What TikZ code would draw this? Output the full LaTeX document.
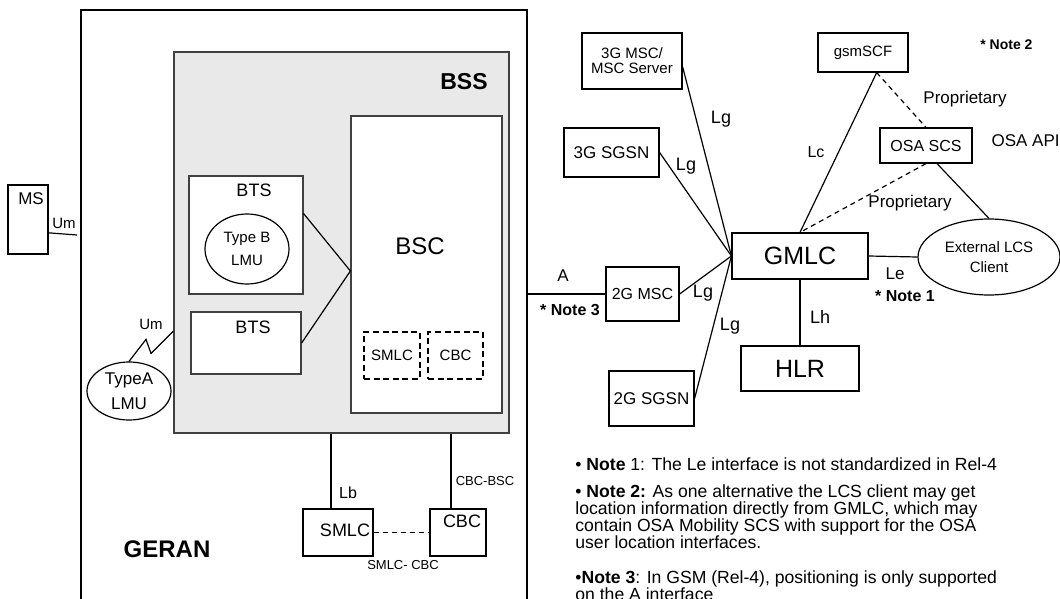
\documentclass[tikz,border=0pt]{standalone}
\usepackage{fontspec}
\setmainfont{Liberation Sans}
\usetikzlibrary{positioning, calc, fit, shapes.geometric}
\definecolor{bssfill}{RGB}{233,233,233}
\newcommand{\fsz}[1]{\fontsize{#1}{#1}\selectfont}

\begin{document}
\begin{tikzpicture}[
    x=0.5pt, y=-0.5pt,
    box/.style={draw=black, line width=0.6pt, inner sep=0pt},
    dbox/.style={draw=black, line width=0.9pt, dash pattern=on 3pt off 1.8pt, inner sep=0pt},
    lmu/.style={ellipse, draw=black, line width=0.6pt, inner sep=0pt, align=center},
    link/.style={line width=0.6pt},
    dlink/.style={line width=0.6pt, dash pattern=on 2.5pt off 2pt},
    iface/.style={inner sep=0pt, font=\fsz{9}},
    noteref/.style={inner sep=0pt, font=\bfseries\fsz{8}},
    note/.style={inner sep=0pt, anchor=north west, align=left, font=\fontsize{8.8}{8.5}\selectfont}
]
    \clip (0,0) rectangle (1060,599);

    % GERAN / BSS
    \node[box, line width=0.8pt, fit={(81,10) (527,640)}] (geran) {};
    \node[font=\bfseries\fsz{12}] (geranlbl) at (167,549) {GERAN};
    \node[box, draw=black!75, fill=bssfill, fit={(174,52) (509,433)}] (bss) {};
    \node[font=\bfseries\fsz{11.5}] (bsslbl) at (464,82) {BSS};
    \node[box, draw=black!75, fill=white, fit={(351,116) (502,413)}] (bsc) {};
    \node[font=\fsz{12}] (bsclbl) at (420,246) {BSC};
    \node[dbox, font=\fsz{7.5}, minimum width=28pt, minimum height=23.5pt] (smlcin) at (392,355.5) {SMLC};
    \node[dbox, font=\fsz{7.5}, minimum width=27.5pt, minimum height=23.5pt] (cbcin) at (455.5,355.5) {CBC};

    % BTSs
    \node[box, draw=black!75, fill=white, fit={(189,176) (303,294)}] (bts1) {};
    \node[font=\fsz{9}] (bts1lbl) at (254,190) {BTS};
    \node[lmu, minimum width=42pt, minimum height=35pt, font=\fsz{7.5}] (lmub) at (247,249) {Type B\\[4pt]LMU};
    \node[box, draw=black!75, fill=white, fit={(191,312) (301,374)}] (bts2) {};
    \node[font=\fsz{9}] (bts2lbl) at (253,327) {BTS};
    \draw[link] ($(bts1.north east)!0.32!(bts1.south east)$) -- (bsc.west |- 0,271);
    \draw[link] (bts2.east) -- (bsc.west |- 0,271);

    % MS and Type A LMU
    \node[box, fit={(8,185) (48,254)}] (ms) {};
    \node[font=\fsz{8.5}] (mslbl) at (31,199) {MS};
    \coordinate (umend) at (77,235);
    \draw[link] ($(ms.north east)!0.69!(ms.south east)$) -- (umend);
    \node[iface, font=\fsz{7.5}] (um1) at (64,223) {Um};
    \node[lmu, minimum width=42pt, minimum height=29pt, font=\fsz{8.5}] (lmua) at (129,391) {TypeA\\[4pt]LMU};
    \draw[link] (lmua.north) -- ++(17,-22) -- ++(5,14) -- (bss.west |- 0,331);
    \node[iface, font=\fsz{7.5}] (um2) at (151,324) {Um};

    % SMLC / CBC
    \node[box, fit={(303,509) (373,556)}] (smlc) {};
    \node[font=\fsz{9}] (smlclbl) at (345,530) {SMLC};
    \node[box, fit={(430,509) (486,556)}] (cbc) {};
    \node[font=\fsz{9}] (cbclbl) at (462,521) {CBC};
    \draw[link] (bss.south -| 331,0) -- (smlc.north -| 331,0);
    \draw[line width=1.1pt] (bss.south -| 451,0) -- (cbc.north -| 451,0);
    \draw[dlink] (smlc.east) -- (cbc.west);
    \node[iface, font=\fsz{8}] (lb) at (348,493) {Lb};
    \node[iface, font=\fsz{6.5}] (cbcbsc) at (485,481) {CBC-BSC};
    \node[iface, font=\fsz{6.5}] (smlccbc) at (403,565) {SMLC- CBC};

    % core network
    \node[box, align=center, font=\fsz{7.5}, minimum width=50pt, minimum height=28pt] (msc3) at (632,61) {3G MSC/\\MSC Server};
    \node[box, font=\fsz{8.5}, minimum width=47.5pt, minimum height=24.5pt] (sgsn3) at (611.5,152.5) {3G SGSN};
    \node[box, font=\fsz{7.5}, minimum width=45pt, minimum height=19.5pt] (scf) at (863,52.5) {gsmSCF};
    \node[box, font=\fsz{8}, minimum width=46pt, minimum height=17.5pt] (osa) at (926,145.5) {OSA SCS};
    \node[box, font=\fsz{12.5}, minimum width=68pt, minimum height=23pt] (gmlc) at (800,256) {GMLC};
    \node[box, font=\fsz{12.5}, minimum width=59pt, minimum height=22.5pt] (hlr) at (800,368.5) {HLR};
    \node[lmu, minimum width=71pt, minimum height=38pt, font=\fsz{7.5}] (client) at (989,257) {External LCS\\[2.5pt]Client};
    \node[box, font=\fsz{8}, minimum width=36.5pt, minimum height=27pt] (msc2) at (642.5,294) {2G MSC};
    \node[box, font=\fsz{8.5}, minimum width=42.5pt, minimum height=27.5pt] (sgsn2) at (651.5,398.5) {2G SGSN};

    \draw[link] ($(msc3.north east)!0.6!(msc3.south east)$) -- (gmlc.west);
    \draw[link] (sgsn3.east) -- (gmlc.west);
    \draw[link] (msc2.east) -- (gmlc.west);
    \draw[link] (sgsn2.east) -- (gmlc.west);
    \draw[link] (gmlc.south) -- (hlr.north);
    \draw[link] (gmlc.east) -- (client.west);
    \draw[link] (gmlc.north) -- ($(scf.south west)!0.65!(scf.south east)$);
    \draw[dlink] ($(scf.south west)!0.65!(scf.south east)$) -- (osa.north);
    \draw[dlink] (osa.south) -- (gmlc.north);
    \draw[link] ($(osa.south)+(11,0)$) -- (client.north);
    \draw[link] (msc2.west -| geran.east) -- (msc2.west);

    \node[iface] (lg1) at (721,119) {Lg};
    \node[iface] (lg2) at (686,166) {Lg};
    \node[iface] (lg3) at (703,293) {Lg};
    \node[iface] (lg4) at (730,326) {Lg};
    \node[iface, font=\fsz{8}] (lc) at (816,152) {Lc};
    \node[iface] (lh) at (820,317) {Lh};
    \node[iface, font=\fsz{8.5}] (le) at (895,274) {Le};
    \node[iface, font=\fsz{8.5}] (alab) at (563,276) {A};
    \node[iface, font=\fsz{8.5}] (prop1) at (965,99) {Proprietary};
    \node[iface, font=\fsz{8.5}] (prop2) at (910,203) {Proprietary};
    \node[iface, font=\fsz{8.5}, anchor=east] (osaapi) at (1060,141) {OSA API};
    \node[noteref, font=\bfseries\fsz{7}, anchor=west] (ref2) at (980,45) {* Note 2};
    \node[noteref] (ref1) at (905,296) {* Note 1};
    \node[noteref] (ref3) at (570,310) {* Note 3};

    % notes
    \node[note] (note1) at (575,457) {• \textbf{Note} 1: The Le interface is not standardized in Rel-4};
    \node[note] (note2) at (575,484) {• \textbf{Note 2:} As one alternative the LCS client may get\\
        location information directly from GMLC, which may\\
        contain OSA Mobility SCS with support for the OSA\\
        user location interfaces.};
    \node[note] (note3) at (575,570) {•\textbf{Note 3}: In GSM (Rel-4), positioning is only supported\\
        on the A interface};
\end{tikzpicture}
\end{document}
